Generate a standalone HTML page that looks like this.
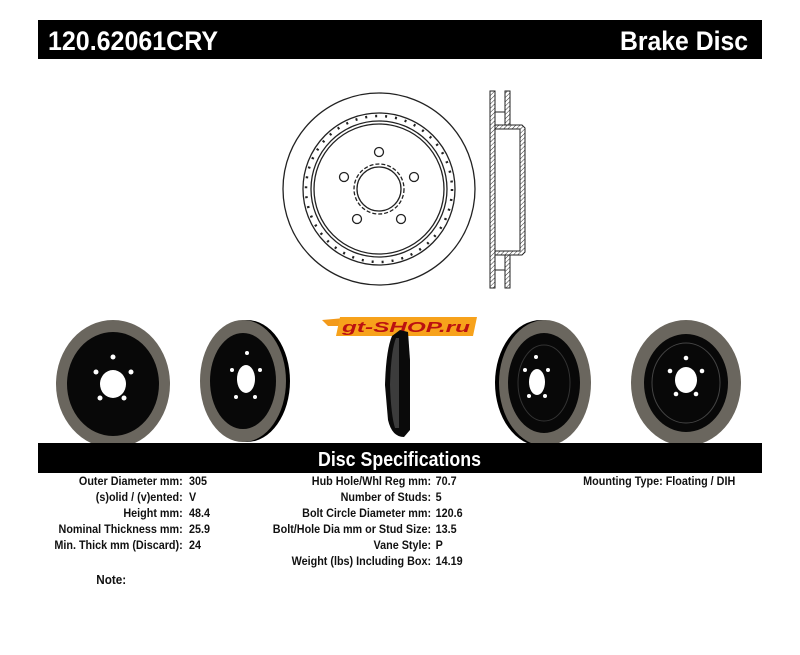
<!DOCTYPE html>
<html><head><style>
html,body{margin:0;padding:0;background:#fff;}
svg{display:block;}
text{font-family:"Liberation Sans",Arial,sans-serif;font-weight:bold;}
</style></head><body>
<svg width="800" height="655" viewBox="0 0 800 655" xmlns="http://www.w3.org/2000/svg">
<defs>
<pattern id="hatch" width="3" height="3" patternUnits="userSpaceOnUse" patternTransform="rotate(45)">
<rect width="3" height="3" fill="#fff"/><line x1="0" y1="0" x2="0" y2="3" stroke="#333" stroke-width="1"/></pattern>
</defs>
<rect x="38" y="20" width="724" height="39" fill="#000"/>
<text x="48" y="50" fill="#fff" font-size="27" textLength="170" lengthAdjust="spacingAndGlyphs">120.62061CRY</text>
<text x="620" y="50" fill="#fff" font-size="27" textLength="128" lengthAdjust="spacingAndGlyphs">Brake Disc</text>

<g fill="none" stroke="#222" stroke-width="1.3">
<circle cx="379" cy="189" r="96"/>
<circle cx="379" cy="189" r="76"/>
<circle cx="379" cy="189" r="73" stroke-dasharray="2 8" stroke-width="2.5"/>
<circle cx="379" cy="189" r="68"/>
<circle cx="379" cy="189" r="65"/>
<circle cx="379" cy="189" r="22"/>
<circle cx="379" cy="189" r="25" stroke-dasharray="4 2"/>
<circle cx="379" cy="152" r="4.5"/>
<circle cx="414" cy="177" r="4.5"/>
<circle cx="401" cy="219" r="4.5"/>
<circle cx="357" cy="219" r="4.5"/>
<circle cx="344" cy="177" r="4.5"/>
</g>
<g stroke="#222" stroke-width="1">
<rect x="490" y="91" width="5" height="197" fill="url(#hatch)"/>
<rect x="505" y="91" width="5" height="35" fill="url(#hatch)"/>
<rect x="505" y="252" width="5" height="36" fill="url(#hatch)"/>
<path d="M495 125 L522 125 L525 128 L525 252 L522 255 L495 255 L495 251 L520 251 L520 129 L495 129 Z" fill="url(#hatch)"/>
<line x1="495" y1="112" x2="505" y2="112"/>
<line x1="495" y1="270" x2="505" y2="270"/>
</g>

<path d="M322 320 L345 318 L340 326 L328 326 Z" fill="#f39a1a"/>
<path d="M340 317 L477 317 L473 336 L336 336 Z" fill="#f7a21b"/>
<text x="342" y="332" font-size="15" fill="#b11" font-style="italic" textLength="128" lengthAdjust="spacingAndGlyphs">gt-SHOP.ru</text>

<ellipse cx="113" cy="384" rx="57" ry="64" fill="#6a665e"/>
<ellipse cx="113" cy="384" rx="46" ry="52" fill="#080808"/>
<ellipse cx="113" cy="384" rx="13" ry="14" fill="#fff"/>
<g fill="#fff"><circle cx="113" cy="357" r="2.5"/><circle cx="131" cy="372" r="2.5"/><circle cx="124" cy="398" r="2.5"/><circle cx="100" cy="398" r="2.5"/><circle cx="96" cy="372" r="2.5"/></g>

<ellipse cx="247" cy="381" rx="43" ry="61" fill="#000"/>
<ellipse cx="243" cy="381" rx="43" ry="61" fill="#6a665e"/>
<ellipse cx="243" cy="381" rx="33" ry="48" fill="#080808"/>
<ellipse cx="246" cy="379" rx="9" ry="14" fill="#fff"/>
<g fill="#fff"><circle cx="247" cy="353" r="2"/><circle cx="260" cy="370" r="2"/><circle cx="255" cy="397" r="2"/><circle cx="236" cy="397" r="2"/><circle cx="232" cy="370" r="2"/></g>

<path d="M400 330 L408 332 L410 360 L410 430 L404 437 Q392 437 388 420 L385 385 Q386 350 392 336 Z" fill="#0a0a0a"/>
<path d="M396 338 Q391 350 390 385 Q391 415 395 428 L399 428 L399 338 Z" fill="#3c3c3c"/>

<ellipse cx="541" cy="383" rx="46" ry="63" fill="#000"/>
<ellipse cx="545" cy="383" rx="46" ry="63" fill="#6a665e"/>
<ellipse cx="544" cy="383" rx="36" ry="50" fill="#080808"/>
<ellipse cx="544" cy="383" rx="26" ry="38" fill="none" stroke="#333" stroke-width="1"/>
<ellipse cx="537" cy="382" rx="8" ry="13" fill="#fff"/>
<g fill="#fff"><circle cx="536" cy="357" r="2"/><circle cx="548" cy="370" r="2"/><circle cx="545" cy="396" r="2"/><circle cx="529" cy="396" r="2"/><circle cx="525" cy="370" r="2"/></g>

<ellipse cx="686" cy="383" rx="55" ry="63" fill="#6a665e"/>
<ellipse cx="686" cy="383" rx="42" ry="49" fill="#080808"/>
<ellipse cx="686" cy="383" rx="34" ry="40" fill="none" stroke="#444" stroke-width="1"/>
<ellipse cx="686" cy="380" rx="11" ry="13" fill="#fff"/>
<g fill="#fff"><circle cx="686" cy="358" r="2.3"/><circle cx="702" cy="371" r="2.3"/><circle cx="696" cy="394" r="2.3"/><circle cx="676" cy="394" r="2.3"/><circle cx="670" cy="371" r="2.3"/></g>

<rect x="38" y="443" width="724" height="30" fill="#000"/>
<text x="318" y="466" fill="#fff" font-size="20" textLength="163" lengthAdjust="spacingAndGlyphs">Disc Specifications</text>

<g transform="scale(0.9,1)" font-size="12" fill="#111">
<g text-anchor="end">
<text x="203" y="485">Outer Diameter mm:</text>
<text x="203" y="501">(s)olid / (v)ented:</text>
<text x="203" y="517">Height mm:</text>
<text x="203" y="533">Nominal Thickness mm:</text>
<text x="203" y="549">Min. Thick mm (Discard):</text>
<text x="479" y="485">Hub Hole/Whl Reg mm:</text>
<text x="479" y="501">Number of Studs:</text>
<text x="479" y="517">Bolt Circle Diameter mm:</text>
<text x="479" y="533">Bolt/Hole Dia mm or Stud Size:</text>
<text x="479" y="549">Vane Style:</text>
<text x="479" y="565">Weight (lbs) Including Box:</text>
</g>
<text x="210" y="485">305</text>
<text x="210" y="501">V</text>
<text x="210" y="517">48.4</text>
<text x="210" y="533">25.9</text>
<text x="210" y="549">24</text>
<text x="484" y="485">70.7</text>
<text x="484" y="501">5</text>
<text x="484" y="517">120.6</text>
<text x="484" y="533">13.5</text>
<text x="484" y="549">P</text>
<text x="484" y="565">14.19</text>
<text x="648" y="485">Mounting Type: Floating / DIH</text>
<text x="107" y="584" font-size="13">Note:</text>
</g>
</svg>
</body></html>
